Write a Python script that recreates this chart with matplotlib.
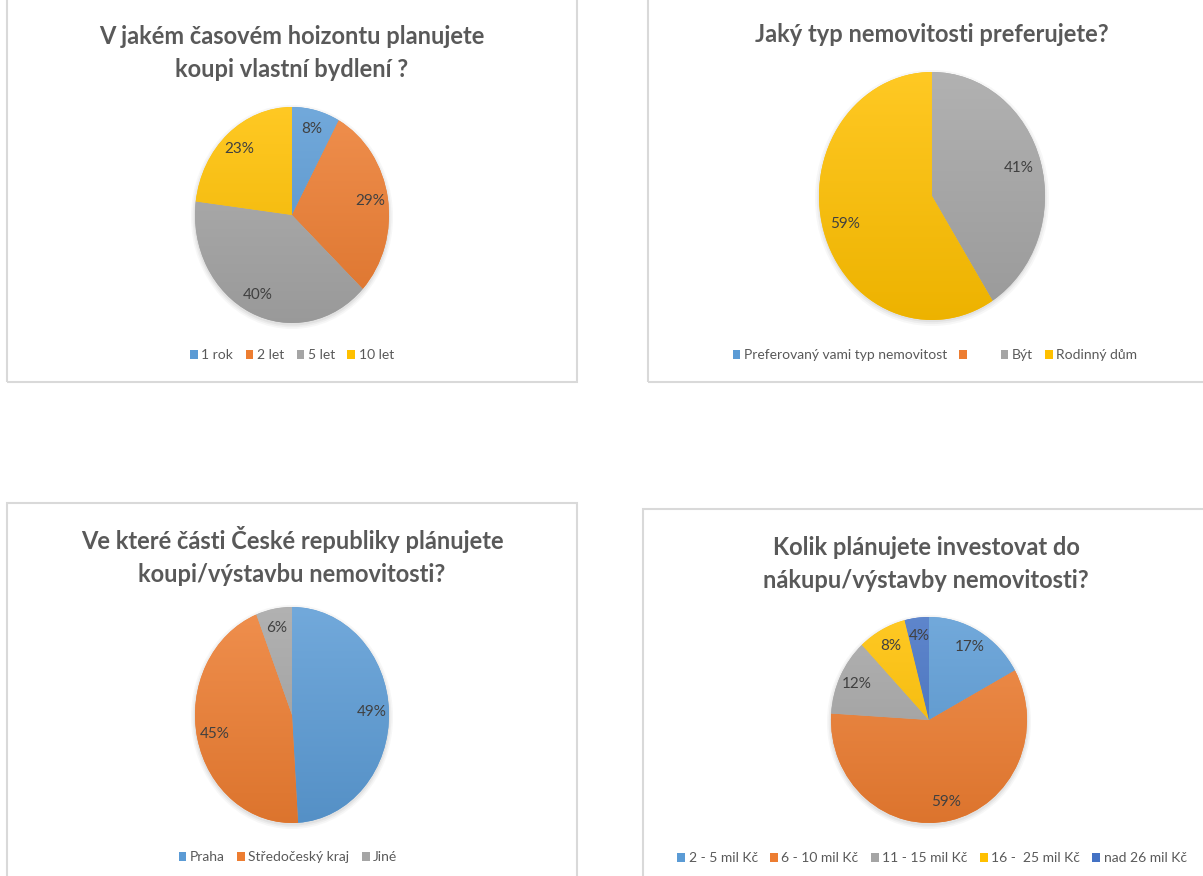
import numpy as np
import matplotlib
matplotlib.use('Agg')
import matplotlib.pyplot as plt
from matplotlib.patches import Patch, Rectangle, Ellipse
from matplotlib.colors import LinearSegmentedColormap, to_rgb

# Lato is the closest installed face to Calibri
plt.rcParams['font.family'] = ['Lato', 'DejaVu Sans']

W, H = 1203, 876

# --- data ---
titles = [
    'V jakém časovém hoizontu planujete\nkoupi vlastní bydlení ?',
    'Jaký typ nemovitosti preferujete?',
    'Ve které části České republiky plánujete\nkoupi/výstavbu nemovitosti?',
    'Kolik plánujete investovat do\nnákupu/výstavby nemovitosti?',
]

horizont_labels = ['1 rok', '2 let', '5 let', '10 let']
horizont_values = [8, 29, 40, 23]

typ_labels = ['Preferovaný vami typ nemovitost', '     ', 'Být', 'Rodinný dům']
typ_values = [0, 0, 41, 59]

region_labels = ['Praha', 'Středočeský kraj', 'Jiné']
region_values = [49, 45, 6]

invest_labels = ['2 - 5 mil Kč', '6 - 10 mil Kč', '11 - 15 mil Kč', '16 -  25 mil Kč', 'nad 26 mil Kč']
invest_values = [17, 59, 12, 8, 4]

# Excel office palette
BLUE, ORANGE, GRAY, YELLOW, DBLUE = '#5B9BD5', '#ED7D31', '#A5A5A5', '#FFC000', '#4472C4'
colors_horizont = [BLUE, ORANGE, GRAY, YELLOW]
colors_typ = [BLUE, ORANGE, GRAY, YELLOW]
colors_region = [BLUE, ORANGE, GRAY]
colors_invest = [BLUE, ORANGE, GRAY, YELLOW, DBLUE]

TITLE_C = '#595959'
TEXT_C = '#404040'
BORDER_C = '#D9D9D9'


def shade(c, f):
    r = np.array(to_rgb(c))
    if f > 0:
        return tuple(r + (1 - r) * f)
    return tuple(r * (1 + f))


def px_axes(fig, cx, cy, rx, ry):
    return fig.add_axes([(cx - rx) / W, 1 - (cy + ry) / H, 2 * rx / W, 2 * ry / H])


def draw_pie(fig, cx, cy, rx, ry, values, colors, pct_dist=0.8):
    # soft shadow behind the pie
    sh = px_axes(fig, cx, cy + 2, rx + 4, ry + 4)
    sh.set_xlim(-1, 1)
    sh.set_ylim(-1, 1)
    sh.axis('off')
    for k, a in zip([1.0, 0.985, 0.97], [0.06, 0.08, 0.1]):
        sh.add_patch(Ellipse((0, 0), 2 * k, 2 * k, color='#7f7f7f', alpha=a, lw=0))

    ax = px_axes(fig, cx, cy, rx, ry)
    total = sum(values)
    wedges, _ = ax.pie(values, colors=colors, startangle=90, counterclock=False,
                       wedgeprops=dict(linewidth=0))
    ax.set_aspect('auto')

    # vertical gradient fill, lighter on top
    grad = np.linspace(0, 1, 256).reshape(-1, 1)
    for w, c in zip(wedges, colors):
        if w.theta2 - w.theta1 <= 0:
            continue
        cmap = LinearSegmentedColormap.from_list('g', [shade(c, 0.14), shade(c, -0.07)])
        im = ax.imshow(grad, extent=(-1, 1, -1, 1), origin='upper', cmap=cmap,
                       aspect='auto', zorder=w.get_zorder())
        im.set_clip_path(w)

    ax.set_xlim(-1, 1)
    ax.set_ylim(-1, 1)

    for w, v in zip(wedges, values):
        if v == 0:
            continue
        mid = np.deg2rad((w.theta1 + w.theta2) / 2)
        ax.text(pct_dist * np.cos(mid), pct_dist * np.sin(mid), f'{round(100 * v / total)}%',
                ha='center', va='center', fontsize=11, color=TEXT_C, zorder=5)
    return ax


def draw_title(fig, cx, cy, text):
    fig.text(cx / W, 1 - cy / H, text, ha='center', va='center', fontsize=17,
             fontweight='bold', color=TITLE_C, linespacing=1.5)


def draw_legend(fig, cx, cy, labels, colors):
    handles = [Patch(facecolor=c, edgecolor='none') for c in colors]
    fig.legend(handles, labels, loc='center', bbox_to_anchor=(cx / W, 1 - cy / H),
               ncol=len(labels), frameon=False, fontsize=10, labelcolor=TITLE_C,
               handlelength=0.55, handleheight=0.6, handletextpad=0.25,
               columnspacing=0.9, borderpad=0)


def draw_box(fig, x0, y0, x1, y1):
    fig.patches.append(Rectangle((x0 / W, 1 - y1 / H), (x1 - x0) / W, (y1 - y0) / H,
                                 transform=fig.transFigure, fill=False,
                                 edgecolor=BORDER_C, linewidth=1.5, zorder=0))


fig = plt.figure(figsize=(W / 100, H / 100), dpi=100)
fig.patch.set_facecolor('white')

# panel frames (partly cut by the image edges)
draw_box(fig, 7, -20, 577, 382)
draw_box(fig, 648, -20, 1216, 382)
draw_box(fig, 7, 503, 577, 900)
draw_box(fig, 643, 509, 1215, 900)

# top left
draw_title(fig, 292, 53, titles[0])
draw_pie(fig, 292, 215, 97, 108, horizont_values, colors_horizont, 0.82)
draw_legend(fig, 292, 355, horizont_labels, colors_horizont)

# top right
draw_title(fig, 932, 35, titles[1])
draw_pie(fig, 932, 196, 113, 124, typ_values, colors_typ, 0.8)
draw_legend(fig, 935, 355, typ_labels, colors_typ)

# bottom left
draw_title(fig, 292, 556, titles[2])
draw_pie(fig, 292, 715, 97, 108, region_values, colors_region, 0.82)
draw_legend(fig, 288, 857, region_labels, colors_region)

# bottom right
draw_title(fig, 926, 564, titles[3])
draw_pie(fig, 929, 720, 98, 103, invest_values, colors_invest, 0.82)
draw_legend(fig, 932, 858, invest_labels, colors_invest)

fig.savefig('out.png', dpi=100, facecolor='white')
